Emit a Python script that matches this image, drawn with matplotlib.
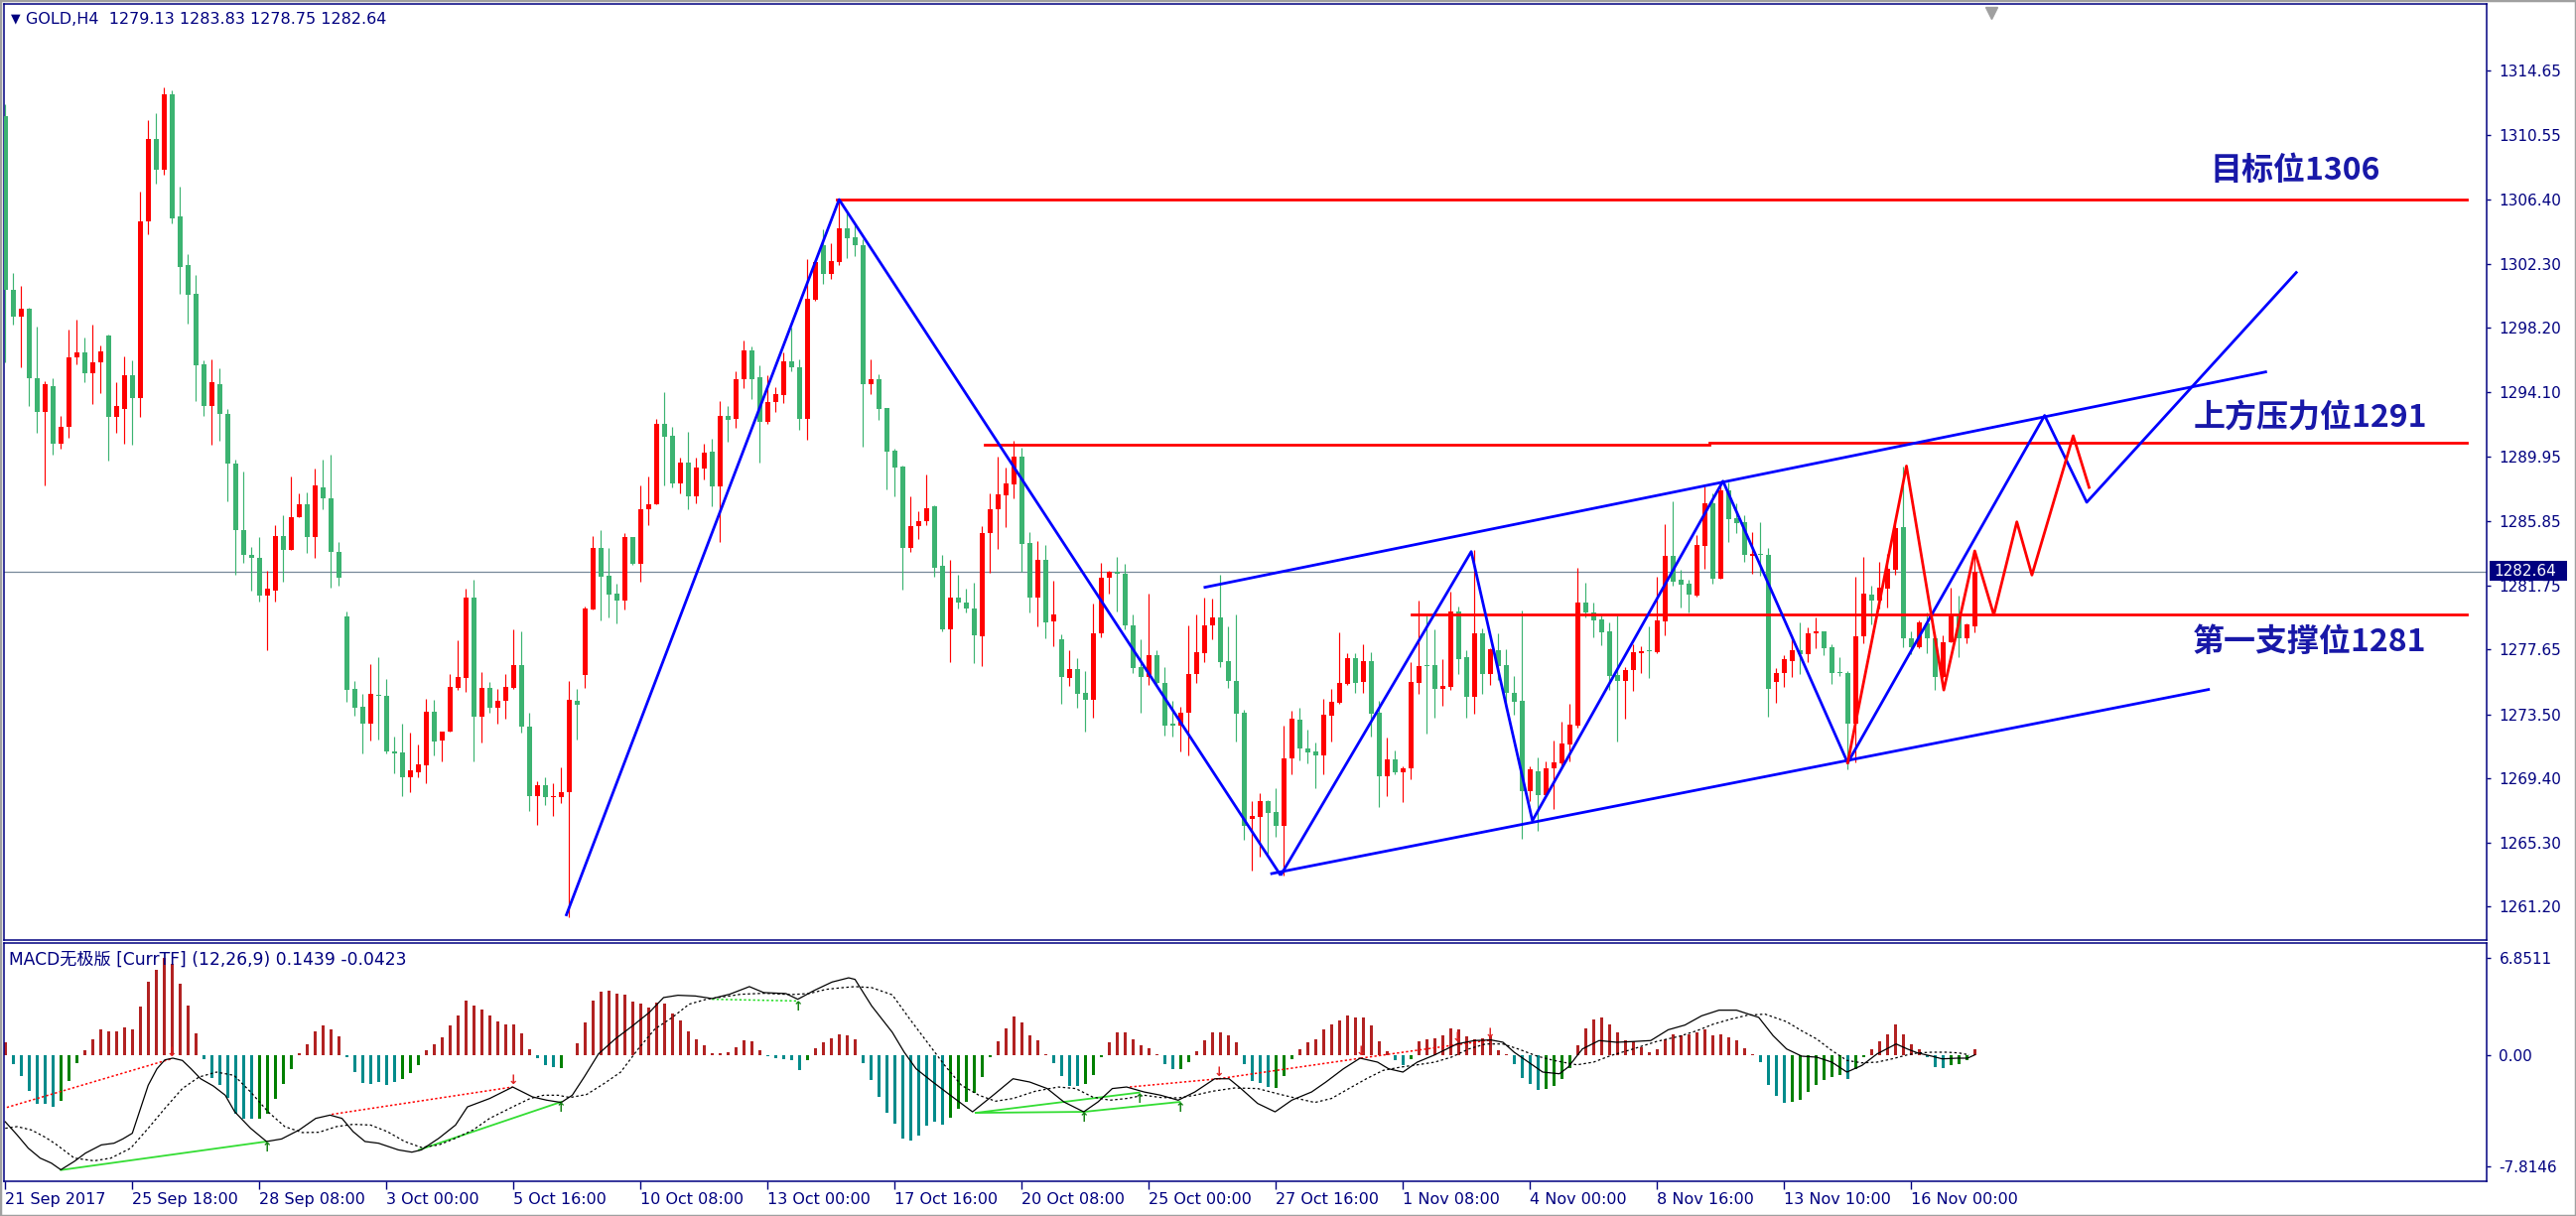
import matplotlib
matplotlib.use('Agg')
import matplotlib.pyplot as plt
import numpy as np
from matplotlib.patches import Rectangle

# ---------------- data ----------------
opens = [1311.7,1300.6,1298.9,1299.4,1295.0,1292.8,1294.5,1290.8,1291.9,1296.3,1296.6,1295.3,1296.0,1297.7,1292.5,1293.0,1295.2,1293.7,1305.0,1310.3,
1308.3,1313.1,1305.3,1302.2,1300.4,1295.9,1293.2,1294.6,1292.7,1289.5,1285.3,1283.7,1283.5,1281.1,1281.4,1284.9,1284.0,1286.1,1286.9,1284.8,
1288.0,1287.3,1283.9,1279.76,1275.1,1273.98,1272.9,1274.75,1274.7,1271.1,1271.05,1269.5,1269.8,1270.25,1273.66,1271.8,1272.4,1275.2,1275.85,1280.95,
1273.36,1275.2,1273.9,1274.35,1275.2,1276.65,1272.7,1268.3,1268.96,1268.2,1268.2,1268.5,1274.35,1276.0,1280.2,1284.1,1282.35,1281.2,1280.8,1284.8,
1283.1,1286.6,1286.9,1292.05,1291.3,1288.27,1289.58,1287.4,1289.2,1290.3,1288.07,1292.6,1292.35,1294.9,1296.76,1295.05,1292.2,1293.46,1293.9,1296.05,
1295.7,1292.4,1300.0,1303.5,1301.67,1302.4,1304.57,1304.0,1303.5,1294.6,1294.9,1293.05,1290.35,1289.34,1284.15,1285.5,1285.86,1286.8,1282.97,1278.94,
1280.93,1280.67,1280.24,1278.5,1285.11,1286.62,1287.5,1288.2,1290.0,1284.44,1280.97,1283.4,1279.43,1278.27,1275.85,1276.4,1274.86,1274.42,1278.65,1282.2,
1282.6,1282.5,1279.2,1276.5,1275.9,1277.27,1275.5,1272.9,1272.8,1273.63,1276.07,1277.42,1279.2,1279.7,1276.9,1275.6,1273.57,1266.8,1266.95,1267.93,
1267.27,1266.34,1270.7,1273.15,1271.3,1271.1,1270.9,1273.43,1274.25,1275.44,1277.07,1275.59,1276.9,1273.58,1269.56,1270.62,1269.82,1270.03,1275.53,1276.65,
1276.65,1275.12,1275.27,1280.07,1277.15,1274.64,1278.66,1276.1,1277.6,1276.65,1274.89,1274.36,1268.57,1269.84,1268.36,1270.03,1270.37,1271.57,1272.8,1280.62,
1280.03,1279.54,1278.8,1276.0,1275.65,1276.31,1277.43,1277.6,1277.48,1279.45,1283.62,1282.1,1281.82,1281.08,1284.25,1286.98,1282.18,1287.81,1286.03,1285.78,
1283.62,1283.72,1283.66,1275.58,1276.15,1276.91,1277.57,1277.36,1278.65,1278.8,1277.78,1276.21,1276.11,1272.9,1278.48,1281.14,1280.76,1281.55,1282.71,1285.46,
1278.33,1277.8,1279.28,1278.33,1275.9,1278.12,1279.81,1278.33,1279.13]
highs = [1312.5,1301.7,1300.9,1299.5,1298.3,1294.8,1295.0,1292.6,1298.1,1298.7,1297.6,1298.4,1297.1,1297.8,1294.7,1296.4,1296.1,1306.9,1311.5,1311.9,
1313.6,1313.4,1307.2,1302.9,1301.6,1296.1,1296.2,1295.6,1293.0,1289.8,1289.0,1284.2,1284.8,1282.7,1285.6,1286.2,1288.7,1287.6,1287.7,1289.2,
1289.8,1290.1,1284.5,1280.08,1275.6,1274.8,1276.7,1277.15,1275.75,1272.07,1272.9,1272.3,1271.6,1274.5,1274.4,1272.4,1276.1,1278.2,1281.5,1282.1,
1276.2,1275.55,1275.1,1276.1,1278.9,1278.8,1273.6,1269.2,1269.5,1269.1,1270.1,1275.6,1275.1,1280.4,1284.9,1285.3,1284.1,1281.85,1285.1,1284.8,
1288.1,1288.7,1292.4,1294.1,1291.9,1289.9,1291.55,1289.9,1290.8,1291.14,1293.5,1293.2,1295.4,1297.4,1297.0,1295.8,1295.15,1294.4,1296.6,1298.2,
1296.2,1302.6,1302.5,1304.5,1303.6,1306.3,1305.6,1304.74,1303.88,1296.2,1295.26,1293.05,1290.5,1289.4,1287.4,1286.46,1288.8,1286.87,1283.68,1283.4,
1282.4,1281.5,1281.9,1285.5,1287.65,1290.0,1289.3,1291.0,1290.53,1285.14,1284.55,1284.3,1282.03,1278.6,1277.6,1277.1,1276.26,1280.6,1283.2,1282.67,
1283.55,1283.1,1279.85,1278.3,1281.2,1277.6,1276.5,1274.35,1273.95,1279.2,1279.85,1280.97,1280.9,1282.4,1279.1,1279.85,1273.8,1267.97,1268.45,1268.0,
1268.8,1272.8,1273.7,1273.9,1272.5,1271.67,1274.46,1275.1,1278.76,1277.39,1277.39,1278.0,1277.45,1274.36,1271.99,1271.19,1270.2,1276.86,1280.77,1279.82,
1278.9,1277.0,1281.34,1280.4,1277.6,1284.01,1279.02,1277.7,1278.66,1277.64,1275.97,1280.14,1270.2,1270.77,1270.5,1271.83,1273.0,1274.15,1282.84,1281.93,
1280.62,1279.82,1279.4,1279.82,1276.5,1277.96,1277.87,1279.14,1282.29,1285.63,1287.11,1282.71,1282.1,1284.93,1288.06,1287.64,1288.31,1288.3,1287.0,1286.2,
1285.14,1285.78,1284.15,1276.43,1277.27,1278.54,1279.35,1279.07,1279.66,1278.8,1277.95,1277.13,1276.26,1282.29,1283.56,1281.72,1283.26,1283.72,1285.63,1289.33,
1278.8,1279.49,1280.02,1278.65,1278.54,1281.61,1281.08,1279.28,1283.83]
lows = [1296.0,1298.4,1295.7,1293.2,1291.5,1288.1,1290.1,1290.5,1291.2,1295.9,1294.7,1293.3,1294.0,1289.7,1291.5,1290.8,1290.7,1292.5,1304.2,1307.4,
1308.0,1304.9,1300.4,1298.5,1293.5,1292.6,1290.7,1291.0,1287.1,1282.4,1283.2,1281.4,1280.7,1277.6,1280.7,1282.0,1284.0,1286.1,1283.8,1283.5,
1286.6,1281.6,1281.7,1274.3,1273.4,1271.0,1271.8,1271.9,1271.0,1269.75,1268.3,1268.5,1269.45,1269.1,1270.9,1270.5,1272.4,1275.05,1274.9,1270.5,
1271.7,1273.6,1272.9,1273.2,1275.1,1272.3,1267.3,1266.4,1267.7,1266.97,1267.8,1260.5,1271.9,1275.2,1280.2,1279.5,1279.7,1279.3,1280.2,1283.05,
1282.0,1285.6,1286.9,1288.1,1288.0,1287.6,1286.6,1287.0,1288.5,1286.8,1284.5,1290.9,1291.8,1294.34,1293.65,1289.6,1292.08,1292.8,1293.4,1295.4,
1291.7,1291.05,1299.96,1301.0,1301.3,1302.2,1302.66,1302.8,1290.6,1293.97,1292.34,1287.9,1287.4,1281.47,1283.9,1284.7,1285.6,1282.3,1278.8,1276.86,
1280.29,1280.0,1276.75,1276.6,1282.54,1284.08,1285.48,1287.3,1282.6,1280.0,1279.13,1278.33,1277.86,1274.2,1275.33,1273.9,1272.4,1273.3,1278.4,1281.2,
1280.1,1278.96,1276.15,1273.6,1275.4,1275.4,1272.15,1272.1,1271.1,1270.9,1275.5,1276.85,1278.3,1276.5,1275.2,1271.77,1265.5,1263.5,1264.37,1264.6,
1265.64,1263.2,1269.66,1270.57,1270.36,1268.8,1269.66,1271.74,1274.15,1275.4,1274.85,1274.89,1272.1,1267.6,1268.29,1269.67,1267.87,1269.35,1274.79,1272.25,
1273.3,1274.07,1275.06,1276.05,1273.3,1273.52,1274.83,1275.4,1275.7,1273.85,1273.47,1265.54,1267.97,1266.03,1268.36,1267.45,1270.09,1270.5,1272.67,1279.71,
1278.42,1277.92,1275.06,1271.78,1273.22,1275.02,1276.16,1275.84,1277.38,1278.54,1281.72,1280.34,1279.98,1281.02,1282.82,1281.86,1282.14,1284.53,1285.1,1283.26,
1282.5,1282.35,1273.32,1274.21,1275.27,1275.9,1276.05,1276.85,1277.74,1277.27,1275.41,1275.94,1269.98,1270.4,1278.06,1279.24,1280.23,1280.34,1282.41,1277.8,
1277.32,1277.74,1277.42,1275.05,1275.79,1278.12,1277.17,1278.06,1278.75]
closes = [1300.6,1298.9,1299.4,1295.0,1292.8,1294.6,1290.8,1291.9,1296.3,1296.6,1295.3,1296.0,1296.7,1292.5,1293.2,1295.2,1293.7,1305.0,1310.3,1308.3,
1313.1,1305.2,1302.1,1300.3,1295.8,1293.2,1294.7,1292.7,1289.5,1285.3,1283.7,1283.5,1281.1,1281.5,1284.9,1284.0,1286.1,1286.9,1284.8,1288.1,
1287.3,1283.9,1282.2,1275.05,1273.9,1272.9,1274.8,1274.7,1271.1,1271.0,1269.5,1269.9,1270.3,1273.66,1271.77,1272.4,1275.25,1275.9,1280.95,1273.36,
1275.2,1273.9,1274.35,1275.25,1276.65,1272.7,1268.3,1268.96,1268.2,1268.25,1268.5,1274.4,1274.13,1280.25,1284.1,1282.3,1281.15,1280.8,1284.8,1283.1,
1286.6,1286.9,1292.05,1291.26,1288.27,1289.58,1287.4,1289.3,1290.2,1288.07,1292.6,1292.3,1294.9,1296.76,1294.9,1292.2,1293.46,1293.97,1296.05,1295.67,
1292.4,1300.06,1302.4,1301.67,1302.47,1304.57,1303.95,1303.5,1294.6,1294.9,1293.0,1290.3,1289.3,1284.15,1285.5,1285.86,1286.7,1282.86,1278.94,1280.93,
1280.65,1280.24,1278.57,1285.11,1286.6,1287.53,1288.25,1290.0,1284.4,1280.97,1283.4,1279.39,1279.85,1275.9,1276.4,1274.8,1274.42,1278.7,1282.2,1282.6,
1282.5,1279.18,1276.47,1275.9,1277.27,1275.5,1272.8,1272.8,1273.6,1276.07,1277.44,1279.2,1279.7,1276.85,1275.64,1273.53,1266.38,1266.97,1267.97,1267.2,
1266.34,1270.7,1273.2,1271.3,1271.07,1270.9,1273.47,1274.3,1275.48,1277.07,1275.53,1276.9,1273.56,1269.56,1270.62,1269.8,1270.05,1275.55,1276.58,1276.6,
1275.12,1275.29,1280.07,1277.03,1274.64,1278.66,1276.1,1277.64,1276.6,1274.85,1274.28,1268.57,1269.98,1268.36,1270.05,1270.41,1271.61,1272.84,1280.62,1280.03,
1279.5,1278.76,1275.97,1275.65,1276.3,1277.47,1277.53,1277.53,1279.49,1283.62,1281.99,1281.78,1281.14,1284.32,1286.98,1282.18,1287.81,1285.99,1285.73,1283.66,
1283.72,1283.66,1275.1,1276.15,1277.0,1277.57,1277.32,1278.65,1278.8,1277.74,1276.15,1276.11,1272.9,1278.48,1281.19,1280.76,1281.61,1282.77,1285.42,1278.33,
1277.8,1279.39,1278.33,1275.9,1278.12,1279.85,1278.33,1279.22,1282.64]

price_ticks = [1314.65,1310.55,1306.40,1302.30,1298.20,1294.10,1289.95,1285.85,1281.75,1277.65,1273.50,1269.40,1265.30,1261.20]
date_tick_bars = [0,16,32,48,64,80,96,112,128,144,160,176,192,208,224,240]
date_labels = ['21 Sep 2017','25 Sep 18:00','28 Sep 08:00','3 Oct 00:00','5 Oct 16:00','10 Oct 08:00','13 Oct 00:00',
               '17 Oct 16:00','20 Oct 08:00','25 Oct 00:00','27 Oct 16:00','1 Nov 08:00','4 Nov 00:00','8 Nov 16:00',
               '13 Nov 10:00','16 Nov 00:00']
last_price = 1282.64

# MACD histogram values
hist = [0.91,-0.61,-1.47,-2.54,-3.40,-3.40,-3.64,-3.24,-1.82,-0.54,0.33,1.14,1.79,1.68,1.68,1.96,1.79,3.43,5.17,6.04,
6.85,6.46,5.06,3.47,1.54,-0.30,-1.59,-2.10,-3.00,-4.10,-4.45,-4.45,-4.45,-4.10,-3.05,-2.00,-0.96,0.16,0.79,1.68,
2.07,1.84,1.33,-0.12,-1.20,-1.93,-2.00,-1.89,-2.07,-1.89,-1.66,-1.26,-0.72,0.33,0.79,1.26,2.12,2.77,3.82,3.52,
3.24,2.77,2.38,2.19,2.19,1.56,0.44,-0.19,-0.68,-0.84,-0.89,0.02,0.84,2.31,3.82,4.48,4.52,4.34,4.24,3.78,
3.66,3.36,3.71,3.66,2.96,2.42,1.66,1.10,0.68,0.14,0.16,0.21,0.56,1.03,0.98,0.37,-0.07,-0.19,-0.30,-0.33,
-1.03,-0.33,0.49,0.91,1.19,1.49,1.42,1.14,-0.54,-1.77,-2.94,-4.06,-4.80,-5.90,-6.04,-5.66,-4.97,-4.69,-4.87,-4.38,
-3.75,-3.29,-2.66,-1.54,-0.14,0.98,1.89,2.73,2.31,1.38,1.03,0.05,-0.54,-1.47,-2.17,-2.17,-2.05,-1.38,-0.16,0.91,
1.61,1.61,1.14,0.68,0.49,0.05,-0.65,-1.00,-1.00,-0.49,0.28,1.03,1.61,1.61,1.38,0.91,-0.61,-1.84,-1.93,-2.24,
-2.28,-1.47,-0.30,0.44,0.91,1.14,1.79,2.17,2.42,2.77,2.66,2.66,2.07,0.98,0.28,-0.37,-0.72,-0.30,0.98,1.10,
1.21,1.38,1.91,1.84,1.33,1.14,1.19,1.38,0.33,0.05,-0.61,-1.59,-2.00,-2.47,-2.40,-2.17,-1.66,-0.91,0.68,1.91,
2.49,2.66,2.19,1.61,1.03,0.98,0.56,0.21,0.40,1.14,1.49,1.42,1.49,1.61,1.84,1.38,1.49,1.26,1.03,0.49,
0.05,-0.49,-2.07,-2.87,-3.33,-3.29,-3.12,-2.59,-2.07,-1.72,-1.54,-1.38,-1.66,-0.96,-0.14,0.40,0.98,1.49,2.19,1.49,
0.79,0.40,-0.14,-0.84,-0.91,-0.68,-0.61,-0.33,0.44]
# histogram colour runs (r = red, t = teal falling, g = green rising)
hist_col_runs = [('r',1),('t',6),('g',3),('r',15),('t',7),('g',5),('r',6),('t',7),('g',3),('r',14),('t',3),('g',1),
                 ('r',25),('t',5),('g',1),('r',6),('t',11),('g',6),('r',7),('t',4),('g',3),('r',7),('t',2),('g',2),
                 ('r',6),('t',4),('g',3),('r',12),('t',2),('g',1),('r',12),('t',4),('g',4),('r',23),('t',4),('g',7),
                 ('t',1),('g',2),('r',7),('t',3),('g',3),('r',1)]

macd_x = [0,1.5,2.9,4.4,5.8,7.0,8.7,10.1,12.1,13.7,14.8,16.0,16.9,18.0,19.1,20.1,21.1,22.3,23.4,24.6,26.2,27.7,28.9,30.9,32.9,
          34.8,37.0,39.1,40.9,42.4,43.8,45.3,47.0,49.5,51.2,52.4,54.6,56.7,58.2,61.0,63.9,66.4,68.2,70.0,71.4,72.9,74.7,76.8,
          79.0,81.1,82.9,84.7,86.9,89.0,91.2,93.7,95.5,98.3,99.8,101.9,104.1,106.2,107.0,109.1,111.7,113.2,114.7,116.8,119.0,
          121.8,124.4,126.9,129.0,131.2,133.3,135.8,137.6,139.4,141.2,143.4,145.5,147.7,149.8,152.3,154.1,155.6,157.7,159.9,
          162.0,164.5,166.3,168.5,170.6,172.8,174.2,176.0,177.8,180.0,182.8,185.0,187.1,188.6,190.0,192.1,193.6,195.7,196.8,
          198.6,200.7,202.9,205.0,207.2,209.4,211.5,213.6,215.8,218.0,220.8,222.6,224.3,226.2,228.1,230.0,231.9,233.8,235.7,
          238.1,239.5,240.8,242.6,243.9,245.8,247.1,248.0]
macd_v = [-4.69,-5.62,-6.55,-7.25,-7.60,-8.07,-7.48,-6.90,-6.32,-6.20,-5.90,-5.50,-3.99,-2.12,-0.96,-0.33,-0.21,-0.37,-0.96,-1.66,
          -2.17,-2.82,-3.99,-5.15,-6.08,-5.90,-5.27,-4.45,-4.22,-4.45,-5.38,-6.08,-6.20,-6.67,-6.83,-6.67,-5.85,-4.92,-3.64,-3.05,
          -2.24,-2.94,-3.17,-3.33,-2.82,-1.54,0.09,1.14,2.07,3.01,4.06,4.22,4.17,3.99,4.29,4.83,4.41,4.34,3.94,4.57,5.15,5.45,5.34,
          3.47,1.61,0.21,-0.96,-1.89,-2.82,-3.99,-2.82,-1.66,-1.89,-2.35,-3.29,-3.99,-3.29,-2.35,-2.24,-2.59,-2.82,-3.17,-2.59,
          -1.66,-1.66,-2.35,-3.40,-3.99,-3.17,-2.59,-1.89,-0.96,-0.21,-0.49,-0.96,-1.19,-0.49,0.02,0.79,1.03,1.07,0.91,0.21,
          -0.61,-1.19,-1.31,-0.84,0.44,1.03,0.91,0.96,1.03,1.79,2.12,2.77,3.17,3.17,2.66,1.38,0.44,-0.07,-0.14,-0.49,-1.19,
          -0.72,0.09,0.79,0.44,0.16,-0.07,-0.26,-0.21,-0.21,0.02]
sig_x = [0,1.5,3.3,5.1,6.5,8.7,11.2,13.3,15.8,18.0,20.1,22.3,24.4,26.6,28.8,30.9,33.1,35.2,37.4,39.5,41.7,43.8,46.0,48.1,50.3,
         52.4,54.6,56.7,58.9,61.0,63.9,66.1,67.8,69.6,71.1,73.2,75.4,77.5,79.7,81.8,84.0,86.1,88.3,91.2,92.6,95.5,99.0,101.2,
         103.4,105.5,107.0,109.1,111.7,113.9,116.1,118.3,120.4,122.6,124.7,126.9,129.7,132.6,134.8,136.9,139.1,141.2,143.4,
         145.5,147.7,149.8,152.0,154.8,157.7,160.6,162.7,164.9,167.0,169.2,171.4,173.5,175.7,177.8,180.0,182.1,184.3,186.4,
         188.6,190.7,192.9,195.0,197.9,200.0,202.2,205.0,207.9,210.8,213.0,215.1,217.3,219.4,221.6,224.3,226.2,228.1,230.0,
         231.9,233.8,235.7,237.6,239.5,240.8,242.6,244.5,246.0,247.3]
sig_v = [-5.15,-5.03,-5.27,-5.80,-6.32,-7.25,-7.44,-7.25,-6.55,-5.15,-3.75,-2.35,-1.54,-1.19,-1.42,-2.59,-3.99,-5.03,-5.45,-5.43,
         -5.03,-4.87,-4.92,-5.38,-6.08,-6.50,-6.32,-5.85,-5.27,-4.45,-3.64,-3.05,-2.82,-2.82,-2.98,-2.77,-2.00,-1.19,0.44,1.84,
         2.66,3.59,3.94,4.17,4.29,4.36,4.27,4.34,4.64,4.76,4.83,4.76,4.25,2.54,0.91,-0.72,-2.12,-2.82,-3.24,-3.05,-2.54,-2.24,
         -2.35,-2.94,-3.17,-3.05,-2.82,-2.98,-3.01,-2.82,-2.54,-2.31,-2.35,-2.77,-3.05,-3.33,-3.05,-2.35,-1.66,-1.07,-0.84,
         -0.68,-0.49,-0.14,0.44,0.79,0.79,0.40,-0.07,-0.37,-0.68,-0.49,-0.02,0.44,0.96,1.33,1.72,2.19,2.54,2.82,2.89,2.36,
         1.72,1.14,0.33,-0.37,-0.54,-0.49,-0.26,0.02,0.16,0.21,0.21,0.16,0.02]

# divergence lines in MACD panel: (x0, v0, x1, v1, kind)
div_lines = [(0.2,-3.68,20.9,-0.26,'rd'), (7.0,-8.09,32.9,-6.08,'gs'), (41.1,-4.17,63.9,-2.24,'rd'),
             (52.1,-6.67,70.0,-3.29,'gs'), (89.0,3.94,99.8,3.82,'gd'), (122.2,-4.06,142.8,-2.63,'gs'),
             (122.2,-4.06,135.8,-3.99,'gs'), (135.8,-3.99,147.9,-3.29,'gs'), (141.6,-2.24,152.8,-1.66,'rd'),
             (152.8,-1.66,170.7,-0.21,'rd'), (170.7,-0.21,187.0,1.07,'rd')]
down_arrows = [(20.9,-0.26),(63.9,-2.24),(152.8,-1.66),(170.7,-0.21),(182.8,0.75),(187.0,1.07)]
up_arrows = [(32.9,-6.08),(70.0,-3.29),(99.8,3.82),(135.8,-3.99),(142.8,-2.63),(147.9,-3.29)]

# drawn objects on the price chart (bar index, price)
blue_paths = [
    ([70.6,105.0,160.6], [1260.6,1306.4,1263.2]),
    ([159.3,277.6], [1263.3,1275.1]),
    ([150.9,284.8], [1281.6,1295.4]),
    ([160.6,184.6,192.3,216.3,232.0,256.8,262.1,288.6], [1263.2,1283.9,1266.7,1288.4,1270.4,1292.6,1287.05,1301.8]),
]
red_path_x = [232.0,239.4,244.1,248.0,250.4,253.3,255.2,260.4,262.4]
red_path_y = [1270.4,1289.37,1275.05,1283.94,1279.85,1285.8,1282.4,1291.3,1288.0]
hlines = [(1306.4,104.7,310.0),(1290.75,123.3,214.6),(1290.85,214.6,310.0),(1279.9,177.05,310.0)]
notes = [(277.6,1308.24,'目标位1306'),(275.5,1292.38,'上方压力位1291'),(275.5,1278.1,'第一支撑位1281')]

# ---------------- drawing ----------------
W, H = 2595, 1225
fig = plt.figure(figsize=(W/100, H/100), dpi=100)
fig.patch.set_facecolor('white')
NAVY = '#000080'

def fxy(l, t, r, b):
    return [l/W, 1-b/H, (r-l)/W, (b-t)/H]

ax = fig.add_axes(fxy(4, 4, 2505, 947))
axm = fig.add_axes(fxy(4, 950, 2505, 1190))

xl = (-0.16, 312.46)
for a in (ax, axm):
    a.set_xlim(*xl)
    for s in a.spines.values():
        s.set_color(NAVY)
        s.set_linewidth(1.1)
ax.set_ylim(1259.07, 1318.90)
axm.set_ylim(-8.88, 7.90)

o = np.array(opens); h = np.array(highs); l = np.array(lows); c = np.array(closes)
x = np.arange(len(o))
cols = np.where(c >= o, '#FF0000', '#3CB371')
ax.vlines(x, l, h, colors=cols, linewidth=0.85, zorder=2)
ax.bar(x, np.maximum(np.abs(c - o), 0.07), bottom=np.minimum(o, c), width=0.62,
       color=cols, linewidth=0, zorder=3)

ax.axhline(last_price, color='#778899', linewidth=0.9, zorder=1)

for xs, ys in blue_paths:
    ax.plot(xs, ys, color='#0000FF', linewidth=2.0, zorder=5, solid_capstyle='butt')
ax.plot(red_path_x, red_path_y, color='#FF0000', linewidth=2.0, zorder=6)
for yv, x0, x1 in hlines:
    ax.plot([x0, x1], [yv, yv], color='#FF0000', linewidth=2.0, zorder=4)
for xt, yt, tx in notes:
    ax.text(xt, yt, tx, color='#1818A8', fontsize=23, fontweight='bold',
            family=['Noto Sans CJK SC', 'DejaVu Sans'], va='center', ha='left', zorder=7)

ax.yaxis.tick_right()
ax.set_yticks(price_ticks)
ax.set_yticklabels([f'{v:.2f}' for v in price_ticks])
ax.tick_params(axis='y', direction='out', length=3, width=1, color=NAVY, pad=6,
               labelsize=11, labelcolor=NAVY)
ax.set_xticks([])

# MACD
hv = np.array(hist)
cmap = {'r': '#B22222', 't': '#008B8B', 'g': '#008000'}
hc = [cmap[k] for k, n in hist_col_runs for _ in range(n)][:len(hv)]
axm.bar(np.arange(len(hv)), hv, width=0.42, color=hc, linewidth=0, zorder=2)
axm.plot(macd_x, macd_v, color='black', linewidth=0.9, zorder=4)
axm.plot(sig_x, sig_v, color='black', linewidth=0.9, linestyle=(0, (2, 2)), zorder=4)
for x0, v0, x1, v1, kind in div_lines:
    if kind == 'rd':
        axm.plot([x0, x1], [v0, v1], color='#FF0000', linewidth=1.1, linestyle=(0, (1.5, 1.5)), zorder=3)
    elif kind == 'gd':
        axm.plot([x0, x1], [v0, v1], color='#22DD22', linewidth=1.1, linestyle=(0, (1.5, 1.5)), zorder=3)
    else:
        axm.plot([x0, x1], [v0, v1], color='#33DD33', linewidth=1.3, zorder=3)
for xa, va in down_arrows:
    axm.text(xa, va, '↓', color='#E02020', fontsize=9, ha='center', va='bottom', zorder=5, fontweight='bold')
for xa, va in up_arrows:
    axm.text(xa, va, '↑', color='#108010', fontsize=9, ha='center', va='top', zorder=5, fontweight='bold')

axm.yaxis.tick_right()
axm.set_yticks([6.8511, 0.0, -7.8146])
axm.set_yticklabels(['6.8511', '0.00', '-7.8146'])
axm.tick_params(axis='y', direction='out', length=3, width=1, color=NAVY, pad=6,
                labelsize=11, labelcolor=NAVY)
axm.set_xticks(date_tick_bars)
axm.set_xticklabels(date_labels, ha='left')
axm.tick_params(axis='x', direction='out', length=6, width=1, color=NAVY, pad=2,
                labelsize=11.5, labelcolor=NAVY)
axm.text(0.002, 0.93, 'MACD无极版 [CurrTF] (12,26,9) 0.1439 -0.0423', transform=axm.transAxes,
         color=NAVY, fontsize=12.3, family=['DejaVu Sans', 'Noto Sans CJK SC'], va='center', ha='left')

# header
fig.text(11/W, 1-19/H, '▼', color=NAVY, fontsize=9, va='center', ha='left')
fig.text(26/W, 1-19/H, 'GOLD,H4  1279.13 1283.83 1278.75 1282.64', color=NAVY, fontsize=11.5,
         va='center', ha='left')
# chart-shift marker
ax.plot([250.1], [1318.3], marker='v', color='#A0A0A0', markersize=9, zorder=8, clip_on=False)

# current price box
fig.patches.append(Rectangle((2508/W, 1-585/H), 78/W, 20/H, transform=fig.transFigure,
                             facecolor=NAVY, edgecolor='none', zorder=10))
fig.text(2512/W, 1-575/H, f'{last_price:.2f}', color='white', fontsize=11, va='center', ha='left', zorder=11)

# outer frame
fig.patches.append(Rectangle((0, 0), 1, 1, transform=fig.transFigure, fill=False,
                             edgecolor='#A0A0A0', linewidth=2.5, zorder=12))

fig.savefig('out.png', dpi=100)
